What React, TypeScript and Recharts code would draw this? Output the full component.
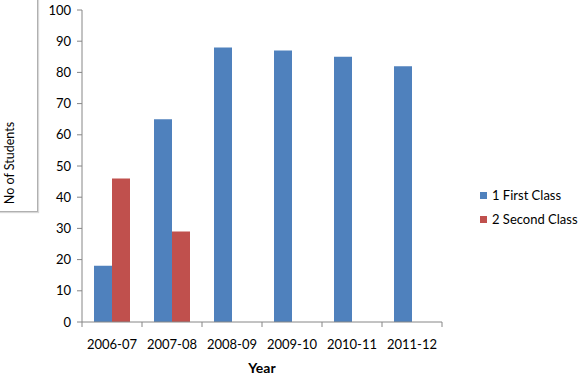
import React from 'react';
import { BarChart, Bar, XAxis, YAxis } from 'recharts';

const years = ['2006-07', '2007-08', '2008-09', '2009-10', '2010-11', '2011-12'];
const firstClass = [18, 65, 88, 87, 85, 82];
const secondClass: (number | null)[] = [46, 29, null, null, null, null];
const yTicks = [0, 10, 20, 30, 40, 50, 60, 70, 80, 90, 100];
const seriesNames = ['1 First Class', '2 Second Class'];
const seriesColors = ['#4F81BD', '#C0504D'];

const data = years.map((y, i) => ({ year: y, first: firstClass[i], second: secondClass[i] }));

const FONT = 'Lato, "Open Sans", sans-serif';
const AXIS = '#868686';

const XTick = (props: any) => {
  const { x, y, payload, index, width, visibleTicksCount } = props;
  const band = width / visibleTicksCount;
  const top = y - 5;
  return (
    <g>
      <line x1={x - band / 2} x2={x - band / 2} y1={top} y2={top + 5} stroke={AXIS} />
      {index === visibleTicksCount - 1 && (
        <line x1={x + band / 2} x2={x + band / 2} y1={top} y2={top + 5} stroke={AXIS} />
      )}
      <text x={x} y={y + 22} textAnchor="middle" fontSize={13} fill="#000" fontFamily={FONT}>
        {payload.value}
      </text>
    </g>
  );
};

const LegendBox = () => (
  <div
    style={{
      position: 'absolute',
      left: 480,
      top: 183,
      fontFamily: FONT,
      fontSize: 13,
      color: '#000',
    }}
  >
    {seriesNames.map((t, i) => (
      <div key={t} style={{ display: 'flex', alignItems: 'center', height: 24 }}>
        <span
          style={{ width: 7, height: 7, background: seriesColors[i], display: 'inline-block', marginRight: 5 }}
        />
        <span>{t}</span>
      </div>
    ))}
  </div>
);

export default function App() {
  return (
    <div style={{ position: 'absolute', left: 0, top: 0, width: 580, height: 384, background: '#fff' }}>
      <div
        style={{
          position: 'absolute',
          left: -1,
          top: -1,
          width: 38,
          height: 212,
          borderRight: '1px solid #b0b0b0',
          borderBottom: '1px solid #b0b0b0',
          boxShadow: '1px 1px 1px #d8d8d8',
        }}
      />
      <BarChart
        width={580}
        height={384}
        data={data}
        margin={{ top: 10, right: 138, left: 32, bottom: 12 }}
        barCategoryGap="20%"
        barGap={0}
      >
        <XAxis
          dataKey="year"
          stroke={AXIS}
          tickLine={false}
          tickSize={5}
          tickMargin={0}
          height={50}
          interval={0}
          tick={<XTick />}
          label={{
            value: 'Year',
            position: 'insideBottom',
            offset: -1,
            style: { fontFamily: FONT, fontSize: 14, fontWeight: 'bold', fill: '#000' },
          }}
        />
        <YAxis
          domain={[0, 100]}
          ticks={yTicks}
          stroke={AXIS}
          tickSize={5}
          tickMargin={6}
          width={50}
          tick={{ fill: '#000', fontSize: 13, fontFamily: FONT }}
          label={{
            content: (p: any) => {
              const vb = p.viewBox;
              const cx = vb.x - 23;
              const cy = vb.y + vb.height / 2 - 3;
              return (
                <text
                  x={cx}
                  y={cy}
                  transform={`rotate(-90 ${cx} ${cy})`}
                  textAnchor="middle"
                  dominantBaseline="central"
                  fontSize={12.5}
                  fontFamily={FONT}
                  fill="#000"
                >
                  No of Students
                </text>
              );
            },
          }}
        />
        <Bar dataKey="first" name={seriesNames[0]} fill={seriesColors[0]} isAnimationActive={false} />
        <Bar dataKey="second" name={seriesNames[1]} fill={seriesColors[1]} isAnimationActive={false} />
      </BarChart>
      <LegendBox />
    </div>
  );
}
